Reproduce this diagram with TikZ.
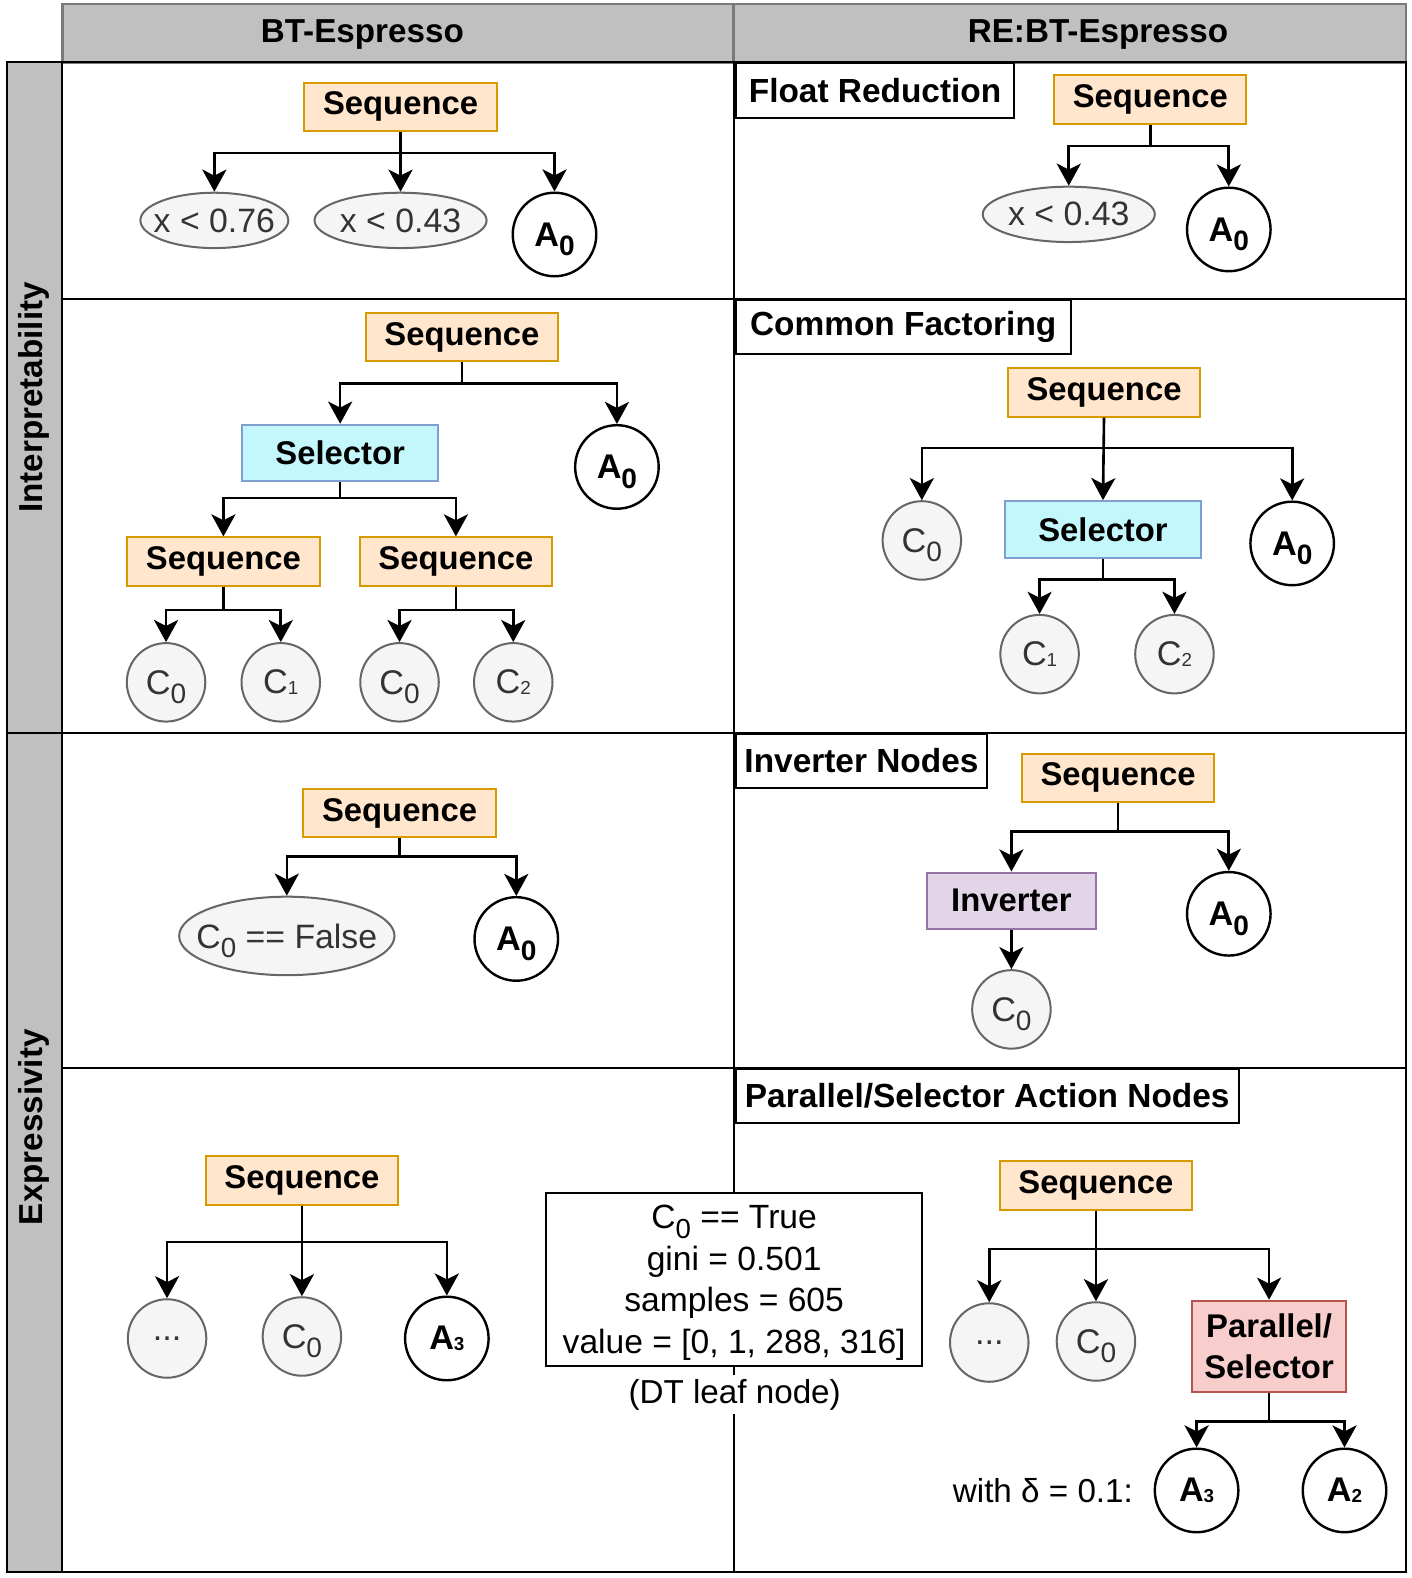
\documentclass[tikz,border=0pt]{standalone}
\usepackage{fontspec}
\setmainfont{Liberation Sans}
\usepackage{tikz}
\usetikzlibrary{arrows.meta,positioning,shapes.geometric}

\definecolor{seqfill}{HTML}{FFE6CC}
\definecolor{seqdraw}{HTML}{D79B00}
\definecolor{selfill}{HTML}{C4F7FC}
\definecolor{seldraw}{HTML}{7F9FCF}
\definecolor{invfill}{HTML}{E1D5E7}
\definecolor{invdraw}{HTML}{9673A6}
\definecolor{parfill}{HTML}{F8CECC}
\definecolor{pardraw}{HTML}{B85450}
\definecolor{condfill}{HTML}{F5F5F5}
\definecolor{conddraw}{HTML}{666666}
\definecolor{condtext}{HTML}{333333}
\definecolor{headfill}{HTML}{C0C0C0}
\definecolor{headdraw}{HTML}{7A7A7A}

\newcommand{\bigidx}[1]{\raisebox{-0.28em}[0pt][0pt]{\scalebox{0.82}{#1}}}
\newcommand{\tinyidx}[1]{\raisebox{-0.04em}{\scalebox{0.55}{#1}}}
\newcommand{\nowd}[1]{\makebox[0pt]{#1}}

\begin{document}
\begin{tikzpicture}[x=0.5pt,y=-0.5pt,>={Stealth[length=11pt,width=12pt,inset=3pt]},semithick]
\tikzstyle{seqbox} = [rectangle,draw=seqdraw,fill=seqfill,line width=1pt,minimum width=95.5pt,minimum height=24pt,inner sep=0pt,font=\fontsize{16.3}{19}\selectfont\bfseries]
\tikzstyle{selbox} = [seqbox,draw=seldraw,fill=selfill,minimum width=97.5pt,minimum height=28pt]
\tikzstyle{invbox} = [seqbox,draw=invdraw,fill=invfill,minimum width=84pt,minimum height=28pt]
\tikzstyle{parbox} = [seqbox,draw=pardraw,fill=parfill,minimum width=76.5pt,minimum height=45.5pt,align=center,font=\fontsize{16.3}{20.5}\selectfont\bfseries]
\tikzstyle{cond} = [circle,draw=conddraw,fill=condfill,text=condtext,line width=1pt,minimum size=39pt,inner sep=0pt,font=\fontsize{17}{20}\selectfont]
\tikzstyle{condell} = [ellipse,draw=conddraw,fill=condfill,text=condtext,line width=1pt,minimum height=27.5pt,inner sep=0pt,font=\fontsize{16.8}{19}\selectfont]
\tikzstyle{act} = [circle,draw=black,fill=white,line width=1.2pt,minimum size=41.5pt,inner sep=0pt,font=\fontsize{17}{20}\selectfont\bfseries]
\tikzstyle{tag} = [rectangle,draw=black,fill=white,line width=1pt,anchor=north west,minimum height=27pt,inner sep=0pt,font=\fontsize{16.6}{19}\selectfont\bfseries]
\tikzstyle{dtbox} = [rectangle,draw=black,fill=white,line width=1pt,minimum width=186.5pt,minimum height=86pt,align=center,text depth=0pt,font=\fontsize{16.7}{20.6}\selectfont]
\tikzstyle{plain} = [font=\fontsize{16.5}{19}\selectfont]
\tikzstyle{arr} = [->,line width=1.3pt]
\useasboundingbox (0,0) rectangle (1403,1568);

% table frame
\draw[headdraw,fill=headfill,line width=1.2pt] (62,4) rectangle (729,62);
\draw[headdraw,fill=headfill,line width=1.2pt] (729,4) rectangle (1397,62);
\node[plain,font=\fontsize{16.5}{19}\selectfont\bfseries] (hBT) at (360,34) {BT-Espresso};
\node[plain,font=\fontsize{16.5}{19}\selectfont\bfseries] (hRE) at (1091,34) {RE:BT-Espresso};
\draw[fill=headfill,line width=1pt] (7,62) rectangle (62,1562);
\node[plain,font=\fontsize{16.5}{19}\selectfont\bfseries,rotate=90] (vInt) at (34,395) {Interpretability};
\node[plain,font=\fontsize{16.5}{19}\selectfont\bfseries,rotate=90] (vExp) at (34,1120) {Expressivity};
\draw[line width=1pt] (62,62) rectangle (1397,1562);
\draw[line width=1pt] (729,62) -- (729,1562);
\draw[line width=1pt] (62,297) -- (1397,297);
\draw[line width=1pt] (7,728) -- (1397,728);
\draw[line width=1pt] (62,1061) -- (1397,1061);

% row 1
\node[seqbox] (seqA) at (398,106) {Sequence};
\node[condell,minimum width=73.5pt] (xA) at (213,219) {\nowd{x < 0.76}};
\node[condell,minimum width=85.5pt] (xB) at (398,219) {\nowd{x < 0.43}};
\node[act] (aA) at (551,233) {A\bigidx{0}};
\foreach \k in {xA,aA} \draw[arr] (seqA.south) -- ++(0,21) -| (\k.north);
\draw[arr] (seqA.south) -- (xB.north);

\node[tag,minimum width=138.5pt] (tFR) at (730,62) {Float Reduction};
\node[seqbox] (seqB) at (1143,99) {Sequence};
\node[condell,minimum width=85.5pt] (xC) at (1062,213) {\nowd{x < 0.43}};
\node[act] (aB) at (1221,228) {A\bigidx{0}};
\foreach \k in {xC,aB} \draw[arr] (seqB.south) -- ++(0,21) -| (\k.north);

% row 2
\node[seqbox] (seqC) at (459,335) {Sequence};
\node[selbox] (selA) at (338,450) {Selector};
\node[act] (aC) at (613,464) {A\bigidx{0}};
\foreach \k in {selA,aC} \draw[arr] (seqC.south) -- ++(0,21) -| (\k.north);
\node[seqbox] (seqD) at (222,558) {Sequence};
\node[seqbox] (seqE) at (453,558) {Sequence};
\foreach \k in {seqD,seqE} \draw[arr] (selA.south) -- ++(0,16) -| (\k.north);
\node[cond] (cA) at (165,678) {C\bigidx{0}};
\node[cond] (cB) at (279,678) {C\tinyidx{1}};
\node[cond] (cC) at (397,678) {C\bigidx{0}};
\node[cond] (cD) at (510,678) {C\tinyidx{2}};
\foreach \k in {cA,cB} \draw[arr] (seqD.south) -- ++(0,23) -| (\k.north);
\foreach \k in {cC,cD} \draw[arr] (seqE.south) -- ++(0,23) -| (\k.north);

\node[tag,minimum width=166.5pt] (tCF) at (730,297) {Common Factoring};
\node[seqbox] (seqF) at (1097,390) {Sequence};
\node[cond] (cE) at (916,537) {C\bigidx{0}};
\node[selbox] (selB) at (1096,526) {Selector};
\node[act] (aD) at (1284,540) {A\bigidx{0}};
\foreach \k in {cE,aD} \draw[arr] (seqF.south) -- ++(0,30) -| (\k.north);
\draw[arr] (seqF.south) -- (selB.north);
\node[cond] (cF) at (1033,650) {C\tinyidx{1}};
\node[cond] (cG) at (1167,650) {C\tinyidx{2}};
\foreach \k in {cF,cG} \draw[arr] (selB.south) -- ++(0,21) -| (\k.north);

% row 3
\node[seqbox] (seqG) at (397,808) {Sequence};
\node[condell,minimum width=107pt,minimum height=39pt] (fA) at (285,930) {\nowd{C\bigidx{0} == False}};
\node[act] (aE) at (513,933) {A\bigidx{0}};
\foreach \k in {fA,aE} \draw[arr] (seqG.south) -- ++(0,18) -| (\k.north);

\node[tag,minimum width=125pt] (tIN) at (730,728) {Inverter Nodes};
\node[seqbox] (seqH) at (1111,773) {Sequence};
\node[invbox] (invA) at (1005,895) {Inverter};
\node[act] (aF) at (1221,908) {A\bigidx{0}};
\foreach \k in {invA,aF} \draw[arr] (seqH.south) -- ++(0,28) -| (\k.north);
\node[cond] (cH) at (1005,1003) {C\bigidx{0}};
\draw[arr] (invA.south) -- (cH.north);

% row 4
\node[seqbox] (seqI) at (300,1173) {Sequence};
\node[cond] (dA) at (166,1330) {...};
\node[cond] (cI) at (300,1328) {C\bigidx{0}};
\node[act] (aG) at (444,1330) {A\tinyidx{3}};
\foreach \k in {dA,aG} \draw[arr] (seqI.south) -- ++(0,36) -| (\k.north);
\draw[arr] (seqI.south) -- (cI.north);

\node[dtbox] (dt) at (729.5,1271) {C\bigidx{0} == True\\gini = 0.501\\samples = 605\\value = [0, 1, 288, 316]};
\node[plain,fill=white,inner sep=2pt] (dtlbl) at (730,1386) {(DT leaf node)};

\node[tag,minimum width=250pt] (tPS) at (730,1061) {Parallel/Selector Action Nodes};
\node[seqbox] (seqJ) at (1089,1178) {Sequence};
\node[cond] (dB) at (983,1334) {...};
\node[cond] (cJ) at (1089,1333) {C\bigidx{0}};
\node[parbox] (parA) at (1261,1338) {Parallel/\\Selector};
\foreach \k in {dB,parA} \draw[arr] (seqJ.south) -- ++(0,38) -| (\k.north);
\draw[arr] (seqJ.south) -- (cJ.north);
\node[act] (aH) at (1189,1481) {A\tinyidx{3}};
\node[act] (aI) at (1336,1481) {A\tinyidx{2}};
\foreach \k in {aH,aI} \draw[arr] (parA.south) -- ++(0,28) -| (\k.north);
\node[plain,anchor=east] (delta) at (1133,1481) {with δ = 0.1:};
\end{tikzpicture}
\end{document}
